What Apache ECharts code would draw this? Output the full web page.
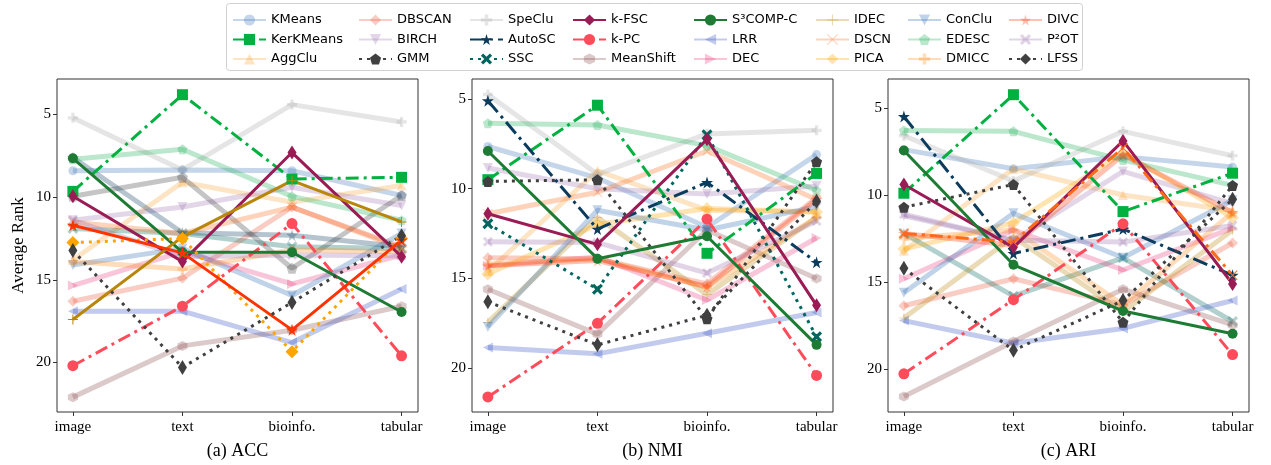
<!DOCTYPE html>
<html>
<head>
<meta charset="utf-8">
<script src="https://cdn.jsdelivr.net/npm/echarts@6.0.0/dist/echarts.min.js"></script>
<style>
  html, body { margin: 0; padding: 0; background: #fff; }
  #chart { width: 1271px; height: 465px; }
</style>
</head>
<body>
<div id="chart"></div>
<script>
// categories on the x axis of every panel
const categories = ['image', 'text', 'bioinfo.', 'tabular'];

// methods, in legend order (column by column)
const methods = ['KMeans', 'KerKMeans', 'AggClu', 'DBSCAN', 'BIRCH', 'GMM',
  'SpeClu', 'AutoSC', 'SSC', 'k-FSC', 'k-PC', 'MeanShift',
  'S³COMP-C', 'LRR', 'DEC', 'IDEC', 'DSCN', 'PICA',
  'ConClu', 'EDESC', 'DMICC', 'DIVC', 'P²OT', 'LFSS'];

// average rank per method (rows follow `methods`), one array per metric
const accRank = [
  [8.4, 8.35, 8.4, 9.9],
  [9.65, 3.8, 8.9, 8.8],
  [13.8, 9.1, 10.3, 9.3],
  [16.3, 14.9, 10.6, 13.0],
  [11.4, 10.6, 9.4, 10.5],
  [9.95, 8.8, 14.3, 9.9],
  [5.2, 8.35, 4.4, 5.45],
  [7.6, 12.15, 12.3, 13.0],
  [11.9, 12.2, 13.0, 13.1],
  [9.95, 13.9, 7.3, 13.6],
  [20.2, 16.6, 11.6, 19.6],
  [22.1, 19.0, 18.05, 16.6],
  [7.65, 13.33, 13.33, 16.95],
  [16.9, 16.9, 18.8, 15.55],
  [15.35, 13.3, 15.25, 13.5],
  [17.4, 12.4, 9.0, 11.5],
  [11.5, 12.2, 10.6, 13.1],
  [12.75, 12.5, 19.35, 12.5],
  [14.1, 13.1, 15.95, 12.2],
  [7.7, 7.1, 9.95, 11.4],
  [13.9, 14.35, 13.2, 13.3],
  [11.7, 13.37, 18.03, 12.6],
  [11.4, 13.6, 13.5, 13.55],
  [13.23, 20.3, 16.37, 12.33]
];

const nmiRank = [
  [7.65, 9.4, 12.15, 8.1],
  [9.5, 5.35, 13.6, 9.15],
  [14.6, 9.0, 11.2, 11.3],
  [13.85, 13.9, 15.3, 10.5],
  [8.85, 10.0, 10.3, 9.85],
  [9.6, 9.5, 17.25, 8.5],
  [4.75, 9.2, 6.95, 6.75],
  [5.1, 12.25, 9.65, 14.1],
  [11.95, 15.6, 7.0, 18.25],
  [11.4, 13.1, 7.25, 16.5],
  [21.6, 17.5, 11.7, 20.4],
  [15.6, 18.1, 12.3, 15.0],
  [7.9, 13.9, 12.65, 18.7],
  [18.85, 19.2, 18.05, 16.9],
  [14.3, 13.8, 16.2, 12.75],
  [17.45, 11.6, 15.9, 11.6],
  [11.4, 10.2, 7.9, 10.6],
  [14.75, 12.0, 11.1, 11.3],
  [17.7, 11.2, 12.3, 11.0],
  [6.35, 6.45, 7.6, 10.1],
  [14.2, 13.9, 15.5, 11.6],
  [14.3, 14.0, 15.45, 10.6],
  [12.95, 13.0, 14.7, 11.8],
  [16.3, 18.7, 17.05, 10.7]
];

const ariRank = [
  [7.4, 8.5, 7.8, 8.4],
  [9.9, 4.25, 10.95, 8.75],
  [13.2, 8.5, 10.0, 10.9],
  [16.35, 14.8, 16.3, 12.75],
  [11.2, 12.6, 8.65, 10.5],
  [10.7, 9.4, 17.3, 9.45],
  [6.6, 9.2, 6.35, 7.75],
  [5.5, 13.35, 11.95, 14.6],
  [12.2, 15.8, 13.6, 17.25],
  [9.4, 13.0, 6.9, 15.1],
  [20.25, 16.0, 11.65, 19.15],
  [21.55, 18.4, 15.4, 17.45],
  [7.45, 14.0, 16.65, 17.95],
  [17.2, 18.5, 17.65, 16.05],
  [14.8, 12.0, 14.3, 11.9],
  [17.05, 12.4, 16.7, 12.0],
  [12.2, 12.7, 7.3, 14.6],
  [13.1, 11.6, 7.6, 11.3],
  [15.6, 11.05, 13.6, 10.3],
  [6.3, 6.35, 8.0, 9.45],
  [12.5, 12.0, 16.3, 11.0],
  [12.2, 12.9, 7.7, 11.0],
  [11.1, 12.6, 12.7, 11.75],
  [14.2, 18.9, 16.05, 10.25]
];

// methods drawn strongly in each panel, the rest are faded
const accHighlight = ['KerKMeans', 'k-FSC', 'k-PC', 'S³COMP-C', 'LFSS', 'PICA', 'IDEC', 'DIVC'];
const nmiHighlight = ['KerKMeans', 'GMM', 'AutoSC', 'SSC', 'k-FSC', 'k-PC', 'S³COMP-C', 'LFSS'];
const ariHighlight = ['KerKMeans', 'GMM', 'AutoSC', 'k-FSC', 'k-PC', 'S³COMP-C', 'LFSS', 'DSCN'];

const panelTitles = ['(a) ACC', '(b) NMI', '(c) ARI'];
const rankTicks = [5, 10, 15, 20];

// marker shapes
const triDown = 'path://M0,0 L100,0 L50,100 Z';
const triLeft = 'path://M100,0 L100,100 L0,50 Z';
const triRight = 'path://M0,0 L0,100 L100,50 Z';
const pentagon = 'path://M50,0 L100,38 L81,100 L19,100 L0,38 Z';
const hexagon = 'path://M50,0 L93,25 L93,75 L50,100 L7,75 L7,25 Z';
const star = 'path://M50,0 L61,35 L98,35 L68,57 L79,91 L50,70 L21,91 L32,57 L2,35 L39,35 Z';
const plusFat = 'path://M34,0 L66,0 L66,34 L100,34 L100,66 L66,66 L66,100 L34,100 L34,66 L0,66 L0,34 L34,34 Z';
const plusThin = 'path://M45,0 L55,0 L55,45 L100,45 L100,55 L55,55 L55,100 L45,100 L45,55 L0,55 L0,45 L45,45 Z';
const xFat = 'path://M20,0 L50,30 L80,0 L100,20 L70,50 L100,80 L80,100 L50,70 L20,100 L0,80 L30,50 L0,20 Z';
const xThin = 'path://M7,0 L50,43 L93,0 L100,7 L57,50 L100,93 L93,100 L50,57 L7,100 L0,93 L43,50 L0,7 Z';

const dashDot = [13, 5, 3, 5];
const dotted = [3, 5];

const styles = {
  'KMeans': { color: '#3e77b9', symbol: 'circle', size: 9 },
  'KerKMeans': { color: '#00b140', symbol: 'rect', size: 11, dash: dashDot },
  'AggClu': { color: '#f8a53a', symbol: 'triangle', size: 10 },
  'DBSCAN': { color: '#f05a3c', symbol: 'diamond', size: 11 },
  'BIRCH': { color: '#9e76b2', symbol: triDown, size: 10 },
  'GMM': { color: '#404040', symbol: pentagon, size: 11, dash: dotted },
  'SpeClu': { color: '#aaaaaa', symbol: plusFat, size: 10 },
  'AutoSC': { color: '#0b3c5d', symbol: star, size: 12, dash: [15, 5, 3, 5] },
  'SSC': { color: '#00665e', symbol: xFat, size: 11, dash: dotted },
  'k-FSC': { color: '#9b1b55', symbol: 'diamond', size: [9, 14] },
  'k-PC': { color: '#ff4c5b', symbol: 'circle', size: 11, dash: dashDot },
  'MeanShift': { color: '#8c4c4c', symbol: hexagon, size: 10 },
  'S³COMP-C': { color: '#1e7b34', symbol: 'circle', size: 10 },
  'LRR': { color: '#3452c3', symbol: triLeft, size: 10 },
  'DEC': { color: '#e8417d', symbol: triRight, size: 10 },
  'IDEC': { color: '#b8860b', symbol: plusThin, size: 10 },
  'DSCN': { color: '#ff6a1a', symbol: xThin, size: 10, dash: dashDot },
  'PICA': { color: '#ffa500', symbol: 'diamond', size: 13, dash: dotted },
  'ConClu': { color: '#2f6db5', symbol: triDown, size: 10 },
  'EDESC': { color: '#1fae55', symbol: pentagon, size: 10 },
  'DMICC': { color: '#ff8c1a', symbol: plusFat, size: 10 },
  'DIVC': { color: '#ff3300', symbol: star, size: 12 },
  'P²OT': { color: '#9870ac', symbol: xFat, size: 10 },
  'LFSS': { color: '#404040', symbol: 'diamond', size: [9, 15], dash: dotted }
};

const serif = 'Liberation Serif';
const gridLefts = [57, 472, 888];
const yRanges = [[2.85, 23.0], [3.89, 22.44], [3.35, 22.44]];

function buildSeries(panel, ranks, highlight) {
  return methods.map((m, i) => {
    const st = styles[m];
    const hi = highlight.includes(m);
    return {
      type: 'line',
      name: m,
      xAxisIndex: panel,
      yAxisIndex: panel,
      data: ranks[i].map((v, j) => [j, v]),
      symbol: st.symbol,
      symbolSize: st.size,
      z: hi ? 5 : 2,
      lineStyle: {
        color: st.color,
        width: hi ? 3 : 5,
        type: hi ? (st.dash || 'solid') : 'solid',
        opacity: hi ? 1 : 0.3
      },
      itemStyle: { color: st.color, opacity: hi ? 1 : 0.3 },
      emphasis: { disabled: true }
    };
  });
}

const grids = gridLefts.map(left => ({
  left: left, top: 79, width: 361, height: 335,
  show: true, borderColor: '#333', borderWidth: 1
}));

const xAxes = gridLefts.map((_, i) => ({
  type: 'value',
  gridIndex: i,
  position: 'bottom',
  min: -0.145,
  max: 3.15,
  name: panelTitles[i],
  nameLocation: 'middle',
  nameGap: 30,
  nameTextStyle: { fontFamily: serif, fontSize: 18, color: '#000' },
  axisLine: { show: false, onZero: false },
  splitLine: { show: false },
  axisTick: { show: true, length: 4, customValues: [0, 1, 2, 3], lineStyle: { color: '#333' } },
  axisLabel: {
    customValues: [0, 1, 2, 3],
    formatter: v => categories[Math.round(v)],
    fontFamily: serif, fontSize: 15, color: '#000', margin: 8
  }
}));

const yAxes = gridLefts.map((_, i) => ({
  type: 'value',
  gridIndex: i,
  position: 'left',
  inverse: true,
  min: yRanges[i][0],
  max: yRanges[i][1],
  name: i === 0 ? 'Average Rank' : '',
  nameLocation: 'middle',
  nameGap: 30,
  nameTextStyle: { fontFamily: serif, fontSize: 17, color: '#000' },
  axisLine: { show: false, onZero: false },
  splitLine: { show: false },
  axisTick: { show: true, length: 4, customValues: rankTicks, lineStyle: { color: '#333' } },
  axisLabel: {
    customValues: rankTicks,
    fontFamily: serif, fontSize: 15, color: '#000', margin: 6
  }
}));

// legend: 8 columns of 3
const legendLefts = [227, 353, 464, 567, 688, 810, 902, 1003];
const legends = legendLefts.map((left, c) => ({
  data: methods.slice(c * 3, c * 3 + 3),
  orient: 'vertical',
  left: left,
  top: 8,
  itemWidth: 33,
  itemHeight: 14,
  itemGap: 5.5,
  selectedMode: false,
  textStyle: { fontFamily: 'DejaVu Sans', fontSize: 13, color: '#000', lineHeight: 14 }
}));

const chart = echarts.init(document.getElementById('chart'), null, { renderer: 'canvas' });
chart.setOption({
  animation: false,
  backgroundColor: '#fff',
  graphic: [{
    type: 'rect',
    z: 0,
    shape: { x: 226.5, y: 3.5, width: 856, height: 67, r: 3 },
    style: { fill: '#fff', stroke: '#d0d0d0', lineWidth: 1 }
  }],
  legend: legends,
  grid: grids,
  xAxis: xAxes,
  yAxis: yAxes,
  series: [
    ...buildSeries(1, nmiRank, nmiHighlight),
    ...buildSeries(0, accRank, accHighlight),
    ...buildSeries(2, ariRank, ariHighlight)
  ]
});
</script>
</body>
</html>
